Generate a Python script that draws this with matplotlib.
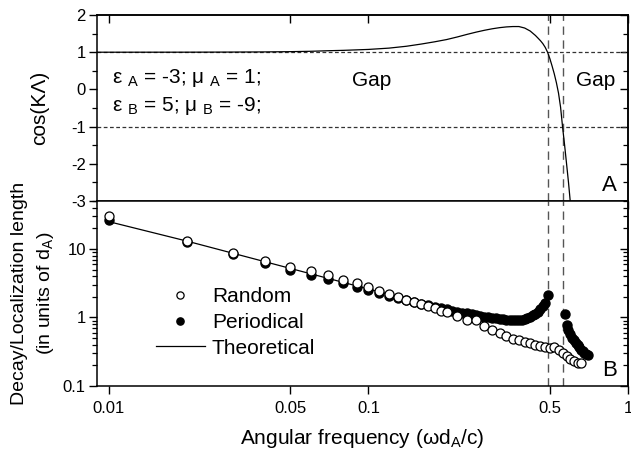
import matplotlib
matplotlib.use("Agg")
import matplotlib.pyplot as plt
from matplotlib.ticker import FixedLocator, NullLocator, LogLocator, NullFormatter

# panel A: cos(K Lambda) vs frequency
cos_freq = [0.009, 0.02, 0.03, 0.04, 0.05, 0.06, 0.07, 0.08, 0.10, 0.12, 0.14,
            0.16, 0.18, 0.20, 0.22, 0.24, 0.26, 0.28, 0.30, 0.32, 0.34, 0.36,
            0.38, 0.40, 0.42, 0.44, 0.45, 0.46, 0.47, 0.48, 0.49, 0.50, 0.51,
            0.52, 0.53, 0.54, 0.55, 0.56, 0.57, 0.58, 0.59, 0.60]
cos_vals = [1.0, 1.001, 1.004, 1.008, 1.015, 1.025, 1.04, 1.05, 1.075, 1.11, 1.16,
            1.22, 1.28, 1.34, 1.41, 1.48, 1.54, 1.59, 1.63, 1.66, 1.68, 1.69,
            1.69, 1.65, 1.57, 1.45, 1.38, 1.31, 1.23, 1.13, 1.0, 0.83, 0.63,
            0.42, 0.18, -0.1, -0.48, -1.02, -1.5, -2.0, -2.5, -3.05]

# panel B: random samples
rand_freq = [0.01, 0.02, 0.03, 0.04, 0.05, 0.06, 0.07, 0.08, 0.09, 0.10,
             0.11, 0.12, 0.13, 0.14, 0.15, 0.16, 0.17, 0.18, 0.19, 0.20,
             0.22, 0.24, 0.26, 0.28, 0.30, 0.32, 0.34, 0.36, 0.38, 0.40,
             0.42, 0.44, 0.46, 0.48, 0.50, 0.52, 0.54, 0.56, 0.58, 0.60,
             0.62, 0.64, 0.66]
rand_vals = [30, 13.2, 8.8, 6.6, 5.5, 4.75, 4.1, 3.5, 3.15, 2.75,
             2.45, 2.17, 1.98, 1.8, 1.68, 1.58, 1.49, 1.37, 1.24, 1.19,
             1.05, 0.93, 0.91, 0.74, 0.66, 0.60, 0.53, 0.49, 0.47, 0.44,
             0.42, 0.40, 0.385, 0.37, 0.36, 0.37, 0.34, 0.30, 0.27, 0.245,
             0.23, 0.22, 0.215]

# panel B: periodical structure
per_freq = [0.01, 0.02, 0.03, 0.04, 0.05, 0.06, 0.07, 0.08, 0.09, 0.10,
            0.11, 0.12, 0.13, 0.14, 0.15, 0.16, 0.17, 0.18, 0.19, 0.20,
            0.21, 0.22, 0.23, 0.24, 0.25, 0.26, 0.27, 0.28, 0.29, 0.30,
            0.31, 0.32, 0.33, 0.34, 0.35, 0.36, 0.37, 0.38, 0.39, 0.40,
            0.41, 0.42, 0.43, 0.44, 0.45, 0.46, 0.47, 0.48, 0.49,
            0.57, 0.58, 0.59, 0.60, 0.61, 0.62, 0.63, 0.64, 0.65, 0.66,
            0.67, 0.68, 0.69, 0.70]
per_vals = [26.5, 12.5, 8.3, 6.2, 4.9, 4.15, 3.6, 3.15, 2.82, 2.52,
            2.28, 2.08, 1.92, 1.79, 1.68, 1.59, 1.51, 1.44, 1.37, 1.31,
            1.26, 1.22, 1.18, 1.15, 1.12, 1.09, 1.06, 1.03, 1.01, 0.99,
            0.97, 0.95, 0.94, 0.93, 0.92, 0.92, 0.92, 0.92, 0.93, 0.95,
            0.98, 1.02, 1.07, 1.14, 1.22, 1.32, 1.45, 1.62, 2.12,
            1.11, 0.78, 0.66, 0.58, 0.51, 0.47, 0.43, 0.40, 0.37, 0.34,
            0.32, 0.30, 0.29, 0.28]

# theoretical curve
theo_freq = [0.01, 0.02, 0.05, 0.1, 0.2]
theo_vals = [25, 13, 5.2, 2.6, 1.3]

gap_edges = [0.494, 0.562]
x_ticks = [0.01, 0.05, 0.1, 0.5, 1]
x_labels = ['0.01', '0.05', '0.1', '0.5', '1']

plt.rcParams['font.family'] = ['Liberation Sans', 'DejaVu Sans']
plt.rcParams['mathtext.fontset'] = 'custom'
plt.rcParams['mathtext.rm'] = 'Liberation Sans'
plt.rcParams['axes.unicode_minus'] = False
plt.rcParams['axes.linewidth'] = 1.1

fig = plt.figure(figsize=(6.31, 4.55), dpi=100)
ax1 = fig.add_axes([0.1537, 0.5582, 0.8415, 0.4088])
ax2 = fig.add_axes([0.1537, 0.1516, 0.8415, 0.4066])

# --- panel A
ax1.axhline(1, color='#333333', lw=0.9, ls=(0, (3, 2)))
ax1.axhline(-1, color='#333333', lw=0.9, ls=(0, (3, 2)))
for g in gap_edges:
    ax1.axvline(g, color='#555555', lw=1.0, ls=(0, (6, 4)))
ax1.plot(cos_freq, cos_vals, color='black', lw=0.9)
ax1.set_xscale('log')
ax1.set_xlim(0.009, 1.0)
ax1.set_ylim(-3, 2)
ax1.set_ylabel('cos(KΛ)', fontsize=15, labelpad=16)
ax1.set_yticks([-3, -2, -1, 0, 1, 2])
ax1.set_yticklabels(['-3', '-2', '-1', '0', '1', '2'])
ax1.yaxis.set_minor_locator(FixedLocator([-2.5, -1.5, -0.5, 0.5, 1.5]))
ax1.text(0.0103, 0.17, 'ε $_{\\mathrm{A}}$ = -3; μ $_{\\mathrm{A}}$ = 1;', fontsize=15)
ax1.text(0.0103, -0.59, 'ε $_{\\mathrm{B}}$ = 5; μ $_{\\mathrm{B}}$ = -9;', fontsize=15)
ax1.text(0.103, 0.25, 'Gap', fontsize=15, ha='center', va='center')
ax1.text(0.753, 0.25, 'Gap', fontsize=15, ha='center', va='center')
ax1.text(0.85, -2.57, 'A', fontsize=16, ha='center', va='center')

# --- panel B
for g in gap_edges:
    ax2.axvline(g, color='#555555', lw=1.0, ls=(0, (6, 4)))
ax2.plot(theo_freq, theo_vals, color='black', lw=0.9, label='Theoretical', zorder=2)
ax2.plot(per_freq, per_vals, 'o', color='black', ms=6.5, label='Periodical', zorder=3)
ax2.plot(rand_freq, rand_vals, 'o', mfc='white', mec='black', mew=0.9, ms=6.5,
         label='Random', zorder=4)
ax2.set_xscale('log')
ax2.set_yscale('log')
ax2.set_xlim(0.009, 1.0)
ax2.set_ylim(0.1, 50)
ax2.set_yticks([0.1, 1, 10])
ax2.set_yticklabels(['0.1', '1', '10'])
ax2.yaxis.set_minor_locator(LogLocator(base=10, subs=range(2, 10)))
ax2.yaxis.set_minor_formatter(NullFormatter())
ax2.set_xlabel('Angular frequency (ωd$_{\\mathrm{A}}$/c)', fontsize=15, labelpad=8)
ax2.set_ylabel('Decay/Localization length\n(in units of d$_{\\mathrm{A}}$)',
               fontsize=14, labelpad=5, linespacing=1.45)
ax2.text(0.85, 0.171, 'B', fontsize=16, ha='center', va='center')

handles, labels = ax2.get_legend_handles_labels()
order = [2, 1, 0]
ax2.legend([handles[i] for i in order], [labels[i] for i in order],
           loc='upper left', bbox_to_anchor=(0.075, 0.635), frameon=False,
           fontsize=15, handlelength=2.35, handletextpad=0.35, labelspacing=0.32,
           markerscale=0.8)

for ax in (ax1, ax2):
    ax.xaxis.set_major_locator(FixedLocator(x_ticks))
    ax.xaxis.set_minor_locator(NullLocator())
    ax.tick_params(which='major', length=6, width=1.0, labelsize=12)
    ax.tick_params(which='minor', length=3.5, width=0.9)
    ax.tick_params(axis='y', which='both', direction='out', right=False, pad=2)
    ax.tick_params(axis='x', which='both', direction='out', top=False, bottom=True)

ax2.set_xticklabels(x_labels)
ax1.tick_params(axis='x', labelbottom=False)
ax2.tick_params(axis='x', pad=5)

# inward ticks on the top of panel A
top = ax1.secondary_xaxis('top')
top.xaxis.set_major_locator(FixedLocator(x_ticks))
top.xaxis.set_minor_locator(NullLocator())
top.tick_params(direction='in', length=6, width=1.0, labeltop=False)

# inward ticks on the right of both panels
right1 = ax1.secondary_yaxis('right')
right1.yaxis.set_major_locator(FixedLocator([-3, -2, -1, 0, 1, 2]))
right1.yaxis.set_minor_locator(FixedLocator([-2.5, -1.5, -0.5, 0.5, 1.5]))
right2 = ax2.secondary_yaxis('right')
right2.set_yscale('log')
right2.yaxis.set_major_locator(FixedLocator([0.1, 1, 10]))
right2.yaxis.set_minor_locator(LogLocator(base=10, subs=range(2, 10)))
for sec in (right1, right2):
    sec.tick_params(which='both', direction='in', labelright=False)
    sec.tick_params(which='major', length=6, width=1.0)
    sec.tick_params(which='minor', length=3.5, width=0.9)

plt.savefig('out.png', dpi=100)
